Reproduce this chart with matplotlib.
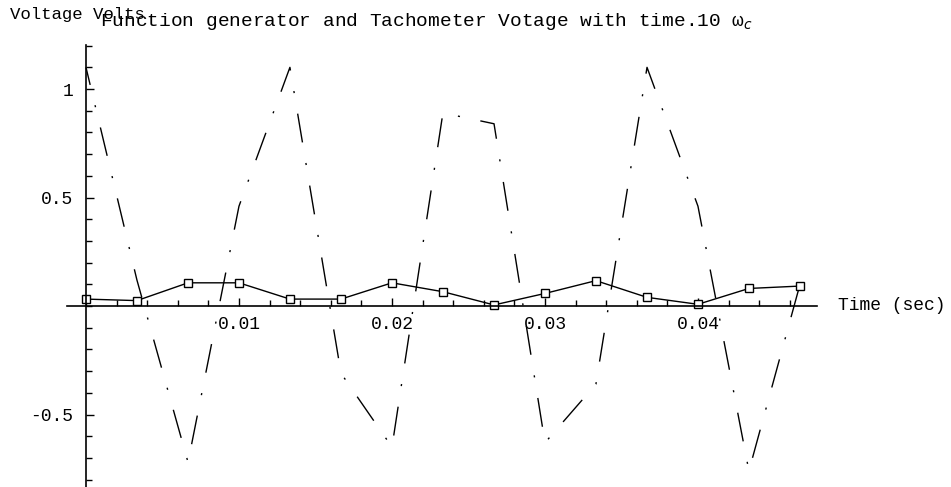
import matplotlib
matplotlib.use("Agg")
import matplotlib.pyplot as plt
from matplotlib.ticker import FixedLocator, MultipleLocator, NullFormatter

plt.rcParams["font.family"] = ["Liberation Mono", "DejaVu Sans Mono"]
plt.rcParams["axes.unicode_minus"] = False

# samples every 1/300 s
time_s = [0.0, 0.00333, 0.00667, 0.01, 0.01333, 0.01667, 0.02, 0.02333,
          0.02667, 0.03, 0.03333, 0.03667, 0.04, 0.04333, 0.04667]
function_gen = [1.10, 0.12, -0.72, 0.46, 1.10, -0.31, -0.65, 0.89,
                0.84, -0.63, -0.36, 1.10, 0.46, -0.76, 0.10]
tachometer = [0.032, 0.025, 0.107, 0.107, 0.032, 0.032, 0.107, 0.066,
              0.005, 0.058, 0.117, 0.040, 0.008, 0.081, 0.092]

xtick_values = [0.01, 0.02, 0.03, 0.04]
xtick_labels = ["0.01", "0.02", "0.03", "0.04"]
ytick_values = [-0.5, 0.5, 1]
ytick_labels = ["-0.5", "0.5", "1"]

W, H = 951, 487
fig = plt.figure(figsize=(W / 100, H / 100), dpi=100)
# axes box in pixels: x 67..817, y 45..487 (from top)
ax = fig.add_axes([67 / W, 0, (817 - 67) / W, (487 - 45) / H])
ax.set_xlim(-0.00124, 0.04778)
ax.set_ylim(-0.834, 1.203)

ax.plot(time_s, function_gen, color="black", linewidth=1.0,
        linestyle=(8, (21, 15, 1.5, 15)))
ax.plot(time_s, tachometer, color="black", linewidth=1.0, marker="s",
        markersize=6, markerfacecolor="white", markeredgecolor="black",
        markeredgewidth=1.0)

for side in ("top", "right"):
    ax.spines[side].set_visible(False)
ax.spines["left"].set_position(("data", 0))
ax.spines["bottom"].set_position(("data", 0))
ax.spines["left"].set_linewidth(1.2)
ax.spines["bottom"].set_linewidth(1.2)

ax.xaxis.set_major_locator(FixedLocator(xtick_values))
ax.set_xticklabels(xtick_labels)
ax.xaxis.set_minor_locator(MultipleLocator(0.002))
ax.yaxis.set_major_locator(FixedLocator(ytick_values))
ax.set_yticklabels(ytick_labels)
ax.yaxis.set_minor_locator(MultipleLocator(0.1))
ax.xaxis.set_minor_formatter(NullFormatter())
ax.yaxis.set_minor_formatter(NullFormatter())

ax.tick_params(which="both", direction="in", width=1.0, labelsize=13)
ax.tick_params(which="major", length=6)
ax.tick_params(which="minor", length=4)
ax.tick_params(axis="x", pad=7)
ax.tick_params(axis="y", pad=9)

fig.text(10 / W, 1 - 15 / H, "Voltage Volts", fontsize=12.5,
         ha="left", va="center")
fig.text(100 / W, 1 - 22 / H,
         "Function generator and Tachometer Votage with time.10 ω$_c$",
         fontsize=14, ha="left", va="center")
fig.text(838 / W, 1 - 306 / H, "Time (sec)", fontsize=13,
         ha="left", va="center")

fig.savefig("out.png", dpi=100)
